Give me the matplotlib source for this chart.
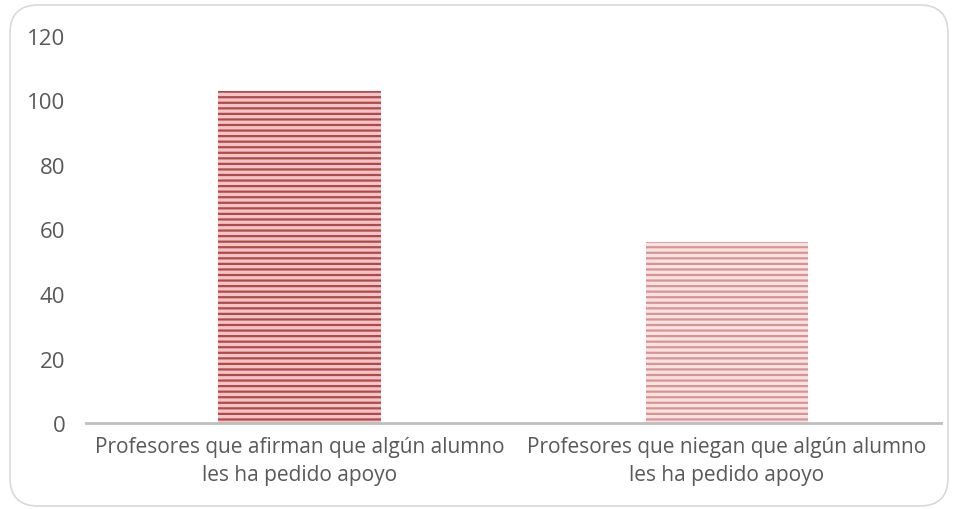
import matplotlib.pyplot as plt
from matplotlib.patches import FancyBboxPatch
from matplotlib.transforms import IdentityTransform

categories = ["Profesores que afirman que algún alumno\nles ha pedido apoyo",
              "Profesores que niegan que algún alumno\nles ha pedido apoyo"]
values = [103, 56]
face_colors = ["#EDC6C5", "#F6E2E1"]
stripe_colors = ["#B5474A", "#D89493"]

plt.rcParams['font.family'] = ['Open Sans', 'DejaVu Sans']
plt.rcParams['hatch.linewidth'] = 1.6

fig = plt.figure(figsize=(9.58, 5.10), dpi=100)
ax = fig.add_axes([0.0898, 0.1686, 0.892, 0.7589])

for i in range(len(values)):
    ax.bar(i, values[i], width=0.38, color=face_colors[i], edgecolor=stripe_colors[i],
           hatch='---', linewidth=0)

ax.set_xlim(-0.5, 1.5)
ax.set_ylim(0, 120)
ax.set_yticks(range(0, 121, 20))
ax.set_xticks(range(len(categories)))
ax.set_xticklabels(categories, fontsize=15, color='#595959', linespacing=1.45)
ax.tick_params(axis='y', labelsize=16, labelcolor='#595959', length=0, pad=15)
ax.tick_params(axis='x', length=0, pad=9)
for s in ['top', 'right', 'left']:
    ax.spines[s].set_visible(False)
ax.spines['bottom'].set_color('#BFBFBF')
ax.spines['bottom'].set_linewidth(2)

# rounded chart border, in pixels
border = FancyBboxPatch((10, 3), 938, 501, boxstyle="round,pad=0,rounding_size=28",
                        transform=IdentityTransform(), facecolor='none',
                        edgecolor='#D9D9D9', linewidth=1.2)
fig.patches.append(border)

fig.savefig("out.png", dpi=100)
